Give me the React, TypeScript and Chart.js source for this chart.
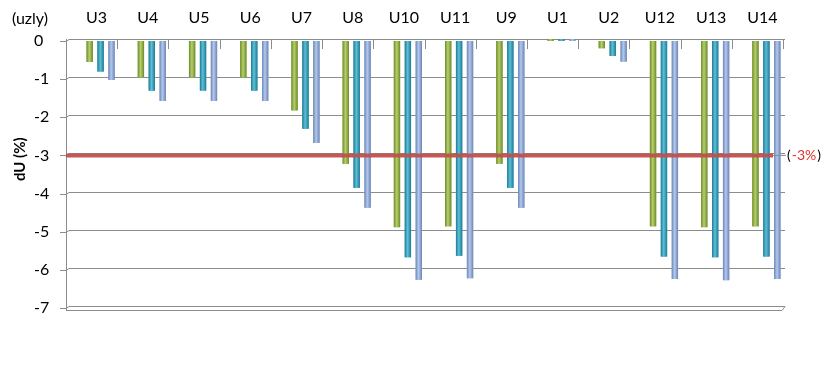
import React, { useEffect, useRef } from "react";
import { Chart, registerables } from "chart.js";

Chart.register(...registerables);

const categories = ["U3", "U4", "U5", "U6", "U7", "U8", "U10", "U11", "U9", "U1", "U2", "U12", "U13", "U14"];
const series1 = [-0.55, -0.95, -0.95, -0.95, -1.82, -3.22, -4.88, -4.86, -3.22, 0.05, -0.19, -4.86, -4.88, -4.86];
const series2 = [-0.8, -1.3, -1.3, -1.3, -2.3, -3.85, -5.67, -5.63, -3.85, 0.05, -0.39, -5.65, -5.67, -5.65];
const series3 = [-1.02, -1.57, -1.57, -1.57, -2.67, -4.37, -6.26, -6.22, -4.37, 0.05, -0.54, -6.24, -6.27, -6.24];
const yTicks = [0, -1, -2, -3, -4, -5, -6, -7];
const threshold = -3;
const thresholdLabel = "-3%";
const xAxisTitle = "(uzly)";
const yAxisTitle = "dU (%)";

const seriesColors = [
  { dark: "#6d8a2a", mid: "#9bbb4f", light: "#b5d06c" },
  { dark: "#1f7a93", mid: "#32a0bd", light: "#5cc0d8" },
  { dark: "#6a86b8", mid: "#93aedd", light: "#b4c8ea" },
];

const FONT = "Lato, 'Open Sans', sans-serif";
const DEPTH = 9; // 3D offset between front frame and bar plane

const extrasPlugin = {
  id: "extras",
  beforeDatasetsDraw(chart: any) {
    const { ctx, chartArea, scales } = chart;
    const y = scales.y;
    const x = scales.x;
    const left = chartArea.left - DEPTH;
    const right = chartArea.right - DEPTH + 2;
    ctx.save();
    ctx.strokeStyle = "#8c8c8c";
    ctx.lineWidth = 1;
    yTicks.forEach((v) => {
      const py = Math.round(y.getPixelForValue(v)) + 0.5;
      ctx.beginPath();
      ctx.moveTo(left - 6, py);
      ctx.lineTo(left, py);
      ctx.lineTo(left + 3, py - 2);
      ctx.lineTo(right, py - 2);
      ctx.stroke();
    });
    const yb = Math.round(y.getPixelForValue(-7)) + 2.5;
    ctx.beginPath();
    ctx.moveTo(left, yb);
    ctx.lineTo(right - 3, yb);
    ctx.lineTo(right, yb - 4);
    ctx.stroke();
    const lx = Math.round(left) + 0.5;
    ctx.beginPath();
    ctx.moveTo(lx, y.getPixelForValue(0));
    ctx.lineTo(lx, yb);
    ctx.stroke();
    const n = categories.length;
    const step = (chartArea.right - chartArea.left) / n;
    for (let i = 0; i <= n; i++) {
      const px = Math.round(x.getPixelForValue(i) - step / 2 - DEPTH) + 0.5;
      ctx.beginPath();
      ctx.moveTo(px, y.getPixelForValue(0) - 2);
      ctx.lineTo(px, y.getPixelForValue(0) + 8);
      ctx.stroke();
    }
    ctx.restore();
  },
  afterDatasetsDraw(chart: any) {
    const { ctx, chartArea, scales } = chart;
    const y = scales.y;
    ctx.save();
    chart.data.datasets.forEach((_: any, di: number) => {
      const meta = chart.getDatasetMeta(di);
      const c = seriesColors[di];
      meta.data.forEach((bar: any) => {
        const { x: bx, y: by, base, width } = bar.getProps(["x", "y", "base", "width"], true);
        const x0 = bx - width / 2;
        const g = ctx.createLinearGradient(x0, 0, x0 + width, 0);
        g.addColorStop(0, c.dark);
        g.addColorStop(0.45, c.light);
        g.addColorStop(1, c.dark);
        ctx.fillStyle = g;
        const top = Math.min(by, base);
        const h = Math.max(Math.abs(base - by), 1);
        ctx.fillRect(x0, top, width, h);
      });
    });
    const left = chartArea.left - DEPTH;
    const right = chartArea.right - DEPTH + 2;
    const ty = y.getPixelForValue(threshold);
    ctx.strokeStyle = "rgba(192,80,77,0.95)";
    ctx.lineWidth = 4;
    ctx.beginPath();
    ctx.moveTo(left, ty);
    ctx.lineTo(right - 12, ty);
    ctx.stroke();
    ctx.strokeStyle = "#8c8c8c";
    ctx.lineWidth = 1;
    ctx.beginPath();
    ctx.moveTo(right - 12, ty);
    ctx.lineTo(right + 1, ty);
    ctx.stroke();
    ctx.font = "14px " + FONT;
    ctx.textBaseline = "middle";
    ctx.textAlign = "left";
    let tx = right + 2;
    ctx.fillStyle = "#000";
    ctx.fillText("(", tx, ty);
    tx += ctx.measureText("(").width + 1;
    ctx.fillStyle = "#e0302a";
    ctx.fillText(thresholdLabel, tx, ty);
    tx += ctx.measureText(thresholdLabel).width + 1;
    ctx.fillStyle = "#000";
    ctx.fillText(")", tx, ty);
    ctx.font = "16px " + FONT;
    ctx.fillStyle = "#000";
    ctx.textAlign = "left";
    ctx.fillText(xAxisTitle, 12, 19);
    ctx.save();
    ctx.translate(20, y.getPixelForValue(-3.1));
    ctx.rotate(-Math.PI / 2);
    ctx.textAlign = "center";
    ctx.font = "bold 15px " + FONT;
    ctx.fillText(yAxisTitle, 0, 0);
    ctx.restore();
    ctx.restore();
  },
};

export default function App() {
  const ref = useRef<HTMLCanvasElement>(null);
  useEffect(() => {
    document.body.style.margin = "0";
    const chart = new Chart(ref.current!, {
      type: "bar",
      data: {
        labels: categories,
        datasets: [
          { label: "A", data: series1, backgroundColor: seriesColors[0].mid, borderWidth: 0 },
          { label: "B", data: series2, backgroundColor: seriesColors[1].mid, borderWidth: 0 },
          { label: "C", data: series3, backgroundColor: seriesColors[2].mid, borderWidth: 0 },
        ],
      },
      options: {
        animation: false,
        responsive: false,
        layout: { padding: { left: 34, right: 46, top: 0, bottom: 84 } },
        datasets: { bar: { categoryPercentage: 0.64, barPercentage: 0.58 } },
        plugins: { legend: { display: false }, tooltip: { enabled: false } },
        scales: {
          x: {
            position: "top",
            grid: { display: false },
            border: { display: false },
            ticks: { color: "#000", font: { family: FONT, size: 16 }, padding: 6, maxRotation: 0, labelOffset: -4 },
            afterFit: (s: any) => { s.height = 41; },
          },
          y: {
            min: -7,
            max: 0,
            afterBuildTicks: (s: any) => { s.ticks = yTicks.map((v) => ({ value: v })); },
            grid: { display: false, drawTicks: false, tickLength: 0 },
            border: { display: false },
            ticks: { color: "#000", font: { family: FONT, size: 16 }, padding: 0, crossAlign: "far" },
            afterFit: (s: any) => { s.width = 41; },
          },
        },
      },
      plugins: [extrasPlugin],
    });
    return () => chart.destroy();
  }, []);
  return (
    <div style={{ position: "absolute", left: 0, top: 0, width: 838, height: 392, background: "#fff" }}>
      <canvas ref={ref} width={838} height={392} />
    </div>
  );
}
